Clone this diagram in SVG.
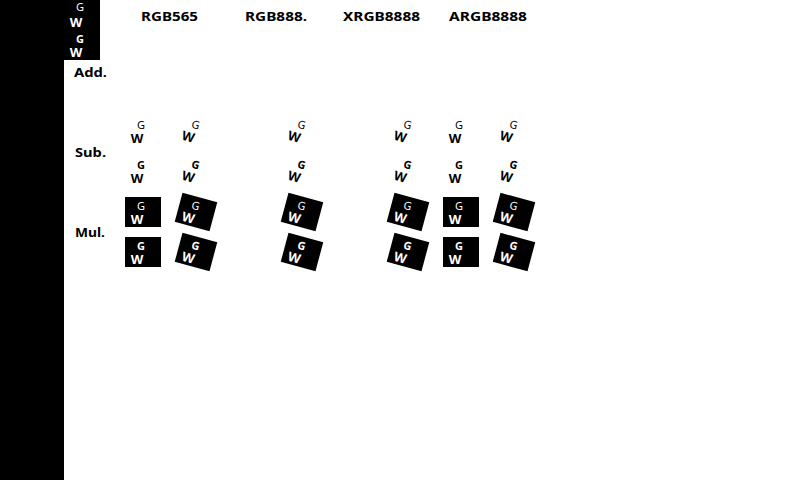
<svg xmlns="http://www.w3.org/2000/svg" width="800" height="480" viewBox="0 0 800 480">
<style>
.hd{font-family:"Noto Sans","Liberation Sans",sans-serif;font-weight:700;font-size:13px;fill:#000}
.g1{font-family:"Noto Sans","Liberation Sans",sans-serif;font-weight:400;font-size:11px;text-anchor:middle}
.g2{font-family:"Noto Sans","Liberation Sans",sans-serif;font-weight:700;font-size:11px;text-anchor:middle}
.w{font-family:"Noto Sans","Liberation Sans",sans-serif;font-weight:700;font-size:13px;text-anchor:middle}
</style>
<defs>
<g id="ic1"><text class="g1" x="-2" y="-2">G</text><text class="w" x="-6" y="12">W</text></g>
<g id="ic2"><text class="g2" x="-2" y="-2">G</text><text class="w" x="-6" y="12">W</text></g>
<g id="bx1"><rect x="-18" y="-15" width="36" height="30" fill="#000"/><use href="#ic1" fill="#fff"/></g>
<g id="bx2"><rect x="-18" y="-15" width="36" height="30" fill="#000"/><use href="#ic2" fill="#fff"/></g>
</defs>
<rect width="800" height="480" fill="#fff"/>
<g id="sidebar">
<rect x="0" y="0" width="64" height="480" fill="#000"/>
<rect x="0" y="0" width="100" height="60" fill="#000"/>
<text class="g1" x="80" y="11" fill="#fff" font-size="10">G</text>
<text class="w" x="76" y="27" fill="#fff" font-size="12">W</text>
<text class="g2" x="80" y="43" fill="#fff" font-size="10">G</text>
<text class="w" x="76" y="57" fill="#fff" font-size="12">W</text>
</g>
<g id="headers">
<text class="hd" x="141" y="21" textLength="57" lengthAdjust="spacingAndGlyphs">RGB565</text>
<text class="hd" x="245" y="21" textLength="62" lengthAdjust="spacingAndGlyphs">RGB888.</text>
<text class="hd" x="343" y="21" textLength="77" lengthAdjust="spacingAndGlyphs">XRGB8888</text>
<text class="hd" x="449" y="21" textLength="78" lengthAdjust="spacingAndGlyphs">ARGB8888</text>
</g>
<g id="rowlabels">
<text class="hd" x="74" y="77" textLength="33" lengthAdjust="spacingAndGlyphs">Add.</text>
<text class="hd" x="75" y="157" textLength="31" lengthAdjust="spacingAndGlyphs">Sub.</text>
<text class="hd" x="75" y="237" textLength="30" lengthAdjust="spacingAndGlyphs">Mul.</text>
</g>
<g id="sub-row1" fill="#000">
<use href="#ic1" x="143" y="131"/>
<use href="#ic1" transform="translate(196,131) rotate(15)"/>
<use href="#ic1" transform="translate(302,131) rotate(15)"/>
<use href="#ic1" transform="translate(408,131) rotate(15)"/>
<use href="#ic1" x="461" y="131"/>
<use href="#ic1" transform="translate(514,131) rotate(15)"/>
</g>
<g id="sub-row2" fill="#000">
<use href="#ic2" x="143" y="171"/>
<use href="#ic2" transform="translate(196,171) rotate(15)"/>
<use href="#ic2" transform="translate(302,171) rotate(15)"/>
<use href="#ic2" transform="translate(408,171) rotate(15)"/>
<use href="#ic2" x="461" y="171"/>
<use href="#ic2" transform="translate(514,171) rotate(15)"/>
</g>
<g id="mul-row1">
<use href="#bx1" x="143" y="212"/>
<use href="#bx1" transform="translate(196,212) rotate(15)"/>
<use href="#bx1" transform="translate(302,212) rotate(15)"/>
<use href="#bx1" transform="translate(408,212) rotate(15)"/>
<use href="#bx1" x="461" y="212"/>
<use href="#bx1" transform="translate(514,212) rotate(15)"/>
</g>
<g id="mul-row2">
<use href="#bx2" x="143" y="252"/>
<use href="#bx2" transform="translate(196,252) rotate(15)"/>
<use href="#bx2" transform="translate(302,252) rotate(15)"/>
<use href="#bx2" transform="translate(408,252) rotate(15)"/>
<use href="#bx2" x="461" y="252"/>
<use href="#bx2" transform="translate(514,252) rotate(15)"/>
</g>
</svg>
